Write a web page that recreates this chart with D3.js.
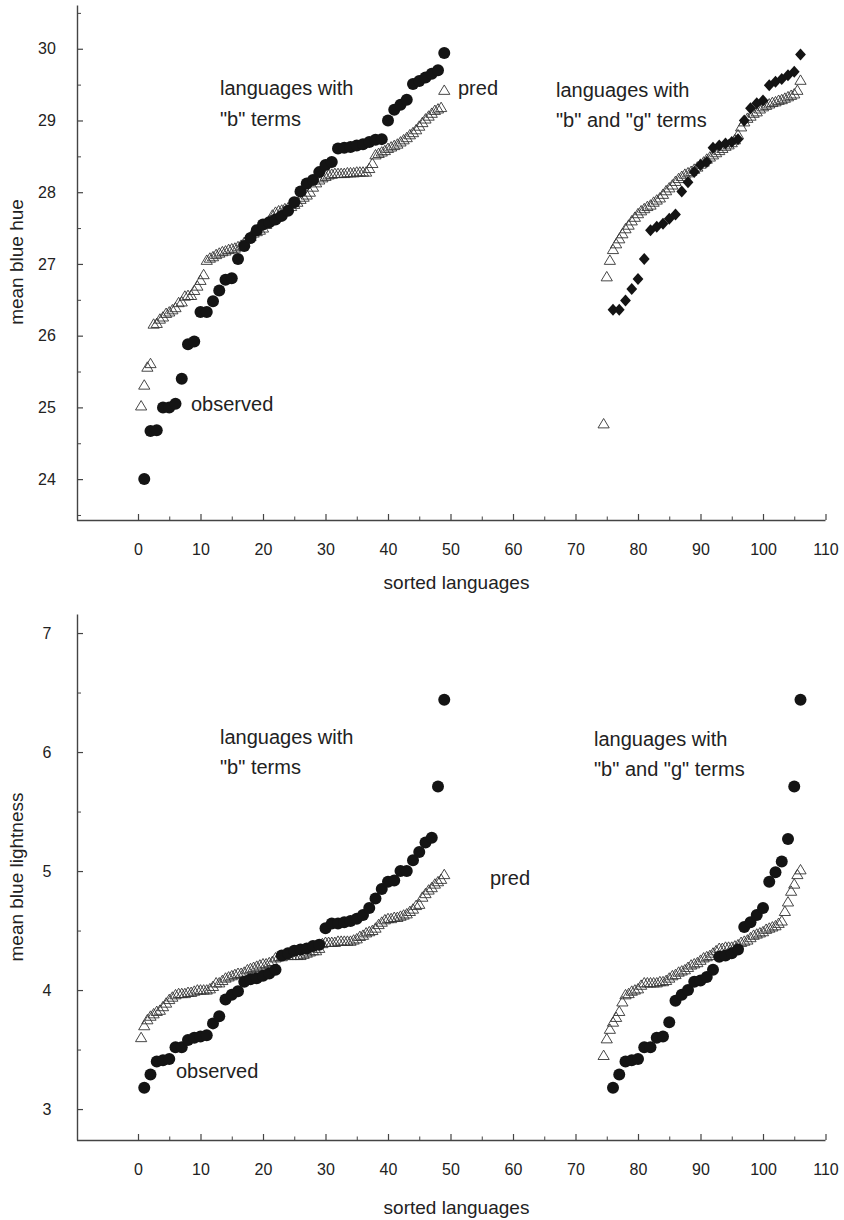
<!DOCTYPE html>
<html><head><meta charset="utf-8">
<script src="https://cdn.jsdelivr.net/npm/d3@7"></script>
<style>
body{margin:0;background:#fff}
text{font-family:Arial,"Liberation Sans",Helvetica,sans-serif;fill:#222}
</style>
</head><body>
<svg id="chart" width="844" height="1220"></svg>
<script>
// ---------- data ----------
const xMajorTicks = [0,10,20,30,40,50,60,70,80,90,100,110];
const xMinorTicks = [5,15,25,35,45,55,65,75,85,95,105];
const hueTicks = [24,25,26,27,28,29,30];
const hueMinorTicks = [23.5,24.5,25.5,26.5,27.5,28.5,29.5,30.5];
const lightTicks = [3,4,5,6,7];
const lightMinorTicks = [3.5,4.5,5.5,6.5];

// rank positions (sorted languages)
const obsBStart = 1, obsBStep = 1;        // languages with "b" terms
const obsBGStart = 76, obsBGStep = 1;     // languages with "b" and "g" terms
const predBStart = 0.5, predBStep = 0.5;
const predBGStart = 74.5, predBGStep = 0.5;

// mean blue hue
const hueObsB = [24.00,24.67,24.68,25.00,25.00,25.05,25.40,25.88,25.92,26.33,
 26.33,26.48,26.63,26.78,26.80,27.07,27.25,27.36,27.47,27.55,
 27.58,27.62,27.67,27.74,27.86,28.01,28.12,28.17,28.28,28.38,
 28.42,28.61,28.62,28.63,28.65,28.67,28.70,28.73,28.74,29.00,
 29.15,29.22,29.29,29.51,29.55,29.60,29.65,29.70,29.94];
const hueObsBG = [26.36,26.36,26.49,26.65,26.79,27.07,27.47,27.52,27.56,27.63,
 27.69,28.01,28.14,28.28,28.38,28.42,28.62,28.65,28.68,28.70,
 28.74,29.00,29.17,29.24,29.28,29.49,29.54,29.58,29.63,29.68,29.92];
const huePredB = [25.02,25.31,25.56,25.61,26.16,26.17,26.23,26.26,26.31,26.33,
 26.36,26.39,26.46,26.47,26.55,26.56,26.56,26.63,26.69,26.77,
 26.85,27.05,27.08,27.10,27.13,27.15,27.17,27.18,27.20,27.21,
 27.22,27.24,27.26,27.30,27.35,27.38,27.43,27.45,27.47,27.50,
 27.55,27.60,27.68,27.72,27.74,27.75,27.77,27.78,27.80,27.83,
 27.86,27.90,27.93,27.96,28.00,28.07,28.13,28.17,28.20,28.22,
 28.24,28.25,28.26,28.26,28.26,28.26,28.27,28.27,28.27,28.28,
 28.28,28.28,28.28,28.33,28.40,28.52,28.54,28.56,28.58,28.61,
 28.63,28.65,28.67,28.70,28.73,28.76,28.80,28.83,28.87,28.92,
 28.97,29.02,29.06,29.10,29.14,29.16,29.18,29.42];
const huePredBG = [24.77,26.82,27.05,27.20,27.28,27.35,27.42,27.49,27.54,27.60,
 27.65,27.70,27.74,27.77,27.80,27.82,27.86,27.89,27.92,27.97,
 28.02,28.06,28.10,28.15,28.19,28.22,28.25,28.27,28.29,28.32,
 28.35,28.39,28.42,28.46,28.49,28.52,28.55,28.58,28.61,28.64,
 28.66,28.69,28.73,28.80,28.91,28.98,29.03,29.06,29.10,29.12,
 29.16,29.19,29.21,29.23,29.25,29.26,29.28,29.29,29.31,29.33,
 29.35,29.37,29.42,29.56];

// mean blue lightness
const lightObsB = [3.18,3.29,3.40,3.41,3.42,3.52,3.52,3.58,3.60,3.61,
 3.62,3.72,3.78,3.92,3.96,3.99,4.07,4.09,4.10,4.12,
 4.14,4.17,4.29,4.31,4.33,4.34,4.35,4.37,4.38,4.52,
 4.56,4.56,4.57,4.58,4.60,4.63,4.69,4.77,4.85,4.91,
 4.92,5.00,5.00,5.09,5.16,5.24,5.28,5.71,6.44];
const lightObsBG = [3.18,3.29,3.40,3.41,3.42,3.52,3.52,3.60,3.61,3.73,
 3.91,3.96,4.00,4.07,4.08,4.11,4.17,4.28,4.29,4.31,
 4.34,4.53,4.57,4.63,4.69,4.91,4.99,5.08,5.27,5.71,6.44];
const lightPredB = [3.60,3.70,3.75,3.78,3.80,3.82,3.83,3.86,3.89,3.92,
 3.94,3.96,3.97,3.97,3.97,3.98,3.98,3.99,4.00,4.00,
 4.00,4.00,4.01,4.03,4.06,4.06,4.08,4.10,4.11,4.12,
 4.13,4.14,4.14,4.15,4.17,4.18,4.19,4.20,4.21,4.22,
 4.22,4.23,4.24,4.27,4.28,4.28,4.29,4.29,4.29,4.29,
 4.29,4.29,4.30,4.31,4.32,4.33,4.33,4.35,4.39,4.40,
 4.40,4.40,4.40,4.41,4.41,4.41,4.41,4.41,4.42,4.43,
 4.45,4.46,4.48,4.49,4.50,4.52,4.55,4.57,4.59,4.60,
 4.60,4.61,4.61,4.62,4.63,4.64,4.66,4.68,4.71,4.72,
 4.78,4.81,4.84,4.86,4.89,4.91,4.93,4.97];
const lightPredBG = [3.45,3.59,3.67,3.73,3.77,3.82,3.90,3.96,3.97,3.99,
 4.00,4.01,4.04,4.06,4.06,4.06,4.06,4.06,4.07,4.07,
 4.08,4.10,4.12,4.13,4.15,4.16,4.17,4.19,4.21,4.22,
 4.23,4.25,4.27,4.28,4.29,4.31,4.33,4.35,4.35,4.36,
 4.36,4.36,4.37,4.38,4.40,4.41,4.42,4.44,4.46,4.47,
 4.48,4.49,4.51,4.52,4.53,4.54,4.56,4.58,4.66,4.74,
 4.83,4.89,4.97,5.01];

// ---------- drawing ----------
const svg = d3.select("#chart");
const x = d3.scaleLinear().domain([-10,110]).range([75.5,825.5]);
const axisX = 77;

const triPath = "M0,-5.4L5.6,4L-5.6,4Z";
const diaPath = "M0,-6L5.4,0L0,6L-5.4,0Z";

function toPts(vals, start, step){ return vals.map((v,i)=>({r:start+i*step, v})); }

const panels = [
  {
    yDomain:[23.43,30.61], yRange:[520,5], ticks:hueTicks, minor:hueMinorTicks,
    yTitle:"mean blue hue", yTitleY:262,
    predB:huePredB, predBG:huePredBG, obsB:hueObsB, obsBG:hueObsBG, bgShape:"diamond",
    titleY:589,
    labels:[
      {t:"languages with", x:220, y:95},
      {t:"\"b\" terms", x:220, y:126},
      {t:"pred", x:458, y:95},
      {t:"observed", x:191, y:411},
      {t:"languages with", x:556, y:97},
      {t:"\"b\" and \"g\" terms", x:556, y:127}
    ]
  },
  {
    yDomain:[2.74,7.16], yRange:[1140,614], ticks:lightTicks, minor:lightMinorTicks,
    yTitle:"mean blue lightness", yTitleY:877,
    predB:lightPredB, predBG:lightPredBG, obsB:lightObsB, obsBG:lightObsBG, bgShape:"circle",
    titleY:1214,
    labels:[
      {t:"languages with", x:220, y:744},
      {t:"\"b\" terms", x:220, y:774},
      {t:"pred", x:490, y:885},
      {t:"observed", x:176, y:1078},
      {t:"languages with", x:594, y:746},
      {t:"\"b\" and \"g\" terms", x:594, y:776}
    ]
  }
];

panels.forEach(p=>{
  const y = d3.scaleLinear().domain(p.yDomain).range(p.yRange);
  const baseY = p.yRange[0];
  const g = svg.append("g");

  // y axis (major with labels)
  const ya = g.append("g").attr("transform",`translate(${axisX},0)`)
    .call(d3.axisLeft(y).tickValues(p.ticks).tickSizeInner(-6).tickSizeOuter(0).tickPadding(0).tickFormat(d3.format("d")));
  ya.select(".domain").attr("stroke","#444").attr("stroke-width",1.4);
  ya.selectAll(".tick line").attr("stroke","#444").attr("stroke-width",1.2);
  ya.selectAll(".tick text").attr("text-anchor","middle").attr("x",-30)
    .style("font-size","16px").style("font-family","Arial, 'Liberation Sans', sans-serif").attr("fill","#222");
  const ym = g.append("g").attr("transform",`translate(${axisX},0)`)
    .call(d3.axisLeft(y).tickValues(p.minor).tickSizeInner(-4).tickSizeOuter(0).tickFormat(""));
  ym.select(".domain").remove();
  ym.selectAll(".tick line").attr("stroke","#444").attr("stroke-width",1);

  // x axis
  const xa = g.append("g").attr("transform",`translate(0,${baseY})`)
    .call(d3.axisBottom(x).tickValues(xMajorTicks).tickSizeInner(-6).tickSizeOuter(0).tickFormat(d3.format("d")));
  xa.select(".domain").attr("stroke","#444").attr("stroke-width",1.4)
    .attr("d",`M${axisX},0.5H${x(110)}`);
  xa.selectAll(".tick line").attr("stroke","#444").attr("stroke-width",1.2);
  xa.selectAll(".tick text").attr("y",35).attr("dy",null)
    .style("font-size","16px").style("font-family","Arial, 'Liberation Sans', sans-serif").attr("fill","#222");
  const xm = g.append("g").attr("transform",`translate(0,${baseY})`)
    .call(d3.axisBottom(x).tickValues(xMinorTicks).tickSizeInner(-3.5).tickSizeOuter(0).tickFormat(""));
  xm.select(".domain").remove();
  xm.selectAll(".tick line").attr("stroke","#444").attr("stroke-width",1);

  // titles
  g.append("text").attr("x",x(50)+6).attr("y",p.titleY).attr("text-anchor","middle")
    .style("font-size","19px").text("sorted languages");
  g.append("text").attr("transform",`translate(23,${p.yTitleY}) rotate(-90)`).attr("text-anchor","middle")
    .style("font-size","19px").text(p.yTitle);

  // predicted (open triangles)
  const pred = toPts(p.predB, predBStart, predBStep).concat(toPts(p.predBG, predBGStart, predBGStep));
  g.append("g").selectAll("path").data(pred).join("path")
    .attr("d",triPath).attr("transform",d=>`translate(${x(d.r)},${y(d.v)})`)
    .attr("fill","none").attr("stroke","#333").attr("stroke-width",0.9);

  // observed
  g.append("g").selectAll("circle").data(toPts(p.obsB, obsBStart, obsBStep)).join("circle")
    .attr("cx",d=>x(d.r)).attr("cy",d=>y(d.v)).attr("r",6).attr("fill","#141414");
  const bg = toPts(p.obsBG, obsBGStart, obsBGStep);
  if(p.bgShape==="diamond"){
    g.append("g").selectAll("path.dia").data(bg).join("path").attr("class","dia")
      .attr("d",diaPath).attr("transform",d=>`translate(${x(d.r)},${y(d.v)})`).attr("fill","#141414");
  } else {
    g.append("g").selectAll("circle").data(bg).join("circle")
      .attr("cx",d=>x(d.r)).attr("cy",d=>y(d.v)).attr("r",6).attr("fill","#141414");
  }

  // annotations
  g.append("g").selectAll("text").data(p.labels).join("text")
    .attr("x",d=>d.x).attr("y",d=>d.y).style("font-size","20px").text(d=>d.t);
});
</script>
</body></html>
